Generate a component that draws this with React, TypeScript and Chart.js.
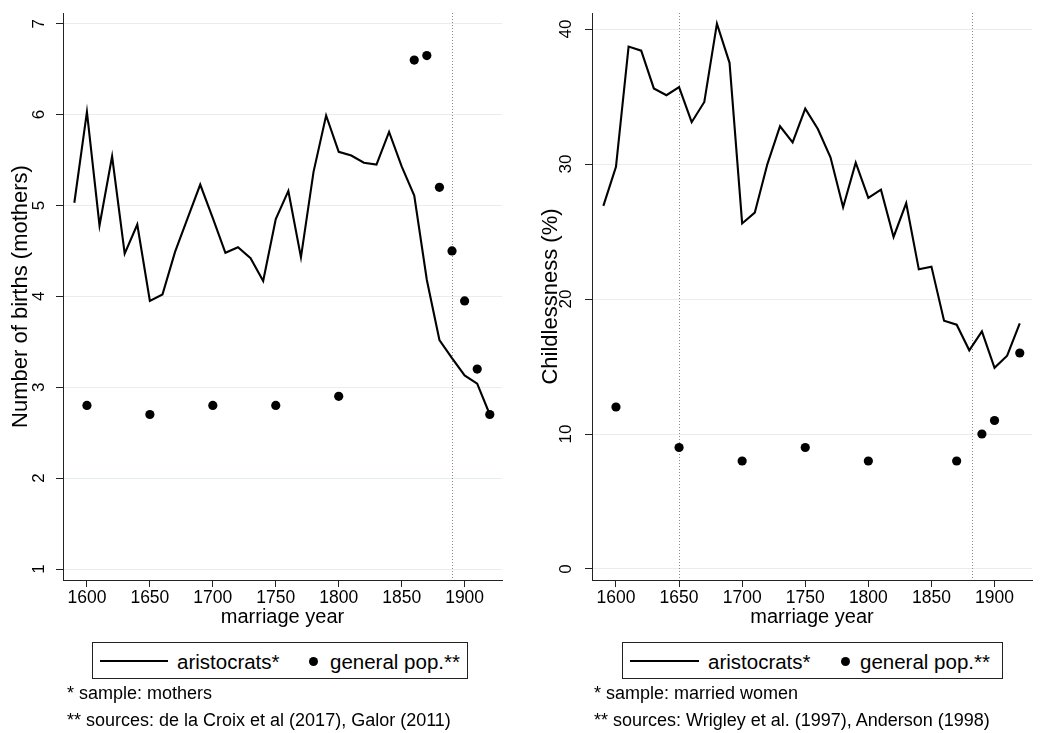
import React, { useEffect, useRef } from "react";
import { Chart, registerables } from "chart.js";

Chart.register(...registerables);

const FONT = "'Liberation Sans', Arial, Helvetica, sans-serif";

// ---------- data ----------
const years = [
  1590, 1600, 1610, 1620, 1630, 1640, 1650, 1660, 1670, 1680, 1690, 1700, 1710, 1720, 1730, 1740, 1750,
  1760, 1770, 1780, 1790, 1800, 1810, 1820, 1830, 1840, 1850, 1860, 1870, 1880, 1890, 1900, 1910, 1920,
];
const aristocratsBirths = [
  5.03, 6.03, 4.78, 5.54, 4.47, 4.79, 3.95, 4.02, 4.49, 4.86, 5.23, 4.86, 4.48, 4.54, 4.42, 4.17, 4.85,
  5.16, 4.43, 5.37, 5.99, 5.59, 5.55, 5.47, 5.45, 5.81, 5.43, 5.11, 4.18, 3.52, 3.32, 3.13, 3.04, 2.7,
];
const generalBirthYears = [1600, 1650, 1700, 1750, 1800, 1860, 1870, 1880, 1890, 1900, 1910, 1920];
const generalBirths = [2.8, 2.7, 2.8, 2.8, 2.9, 6.6, 6.65, 5.2, 4.5, 3.95, 3.2, 2.7];

const aristocratsChildless = [
  26.9, 29.8, 38.7, 38.4, 35.6, 35.1, 35.7, 33.1, 34.6, 40.4, 37.5, 25.6, 26.4, 30.0, 32.8, 31.6, 34.1,
  32.6, 30.5, 26.8, 30.1, 27.5, 28.1, 24.6, 27.1, 22.2, 22.4, 18.4, 18.1, 16.2, 17.6, 14.9, 15.8, 18.2,
];
const generalChildYears = [1600, 1650, 1700, 1750, 1800, 1870, 1890, 1900, 1920];
const generalChildless = [12, 9, 8, 9, 8, 8, 10, 11, 16];

const xTicks = [1600, 1650, 1700, 1750, 1800, 1850, 1900];
const birthTicks = [1, 2, 3, 4, 5, 6, 7];
const childTicks = [0, 10, 20, 30, 40];
const birthMarkers = [1890];
const childMarkers = [1650, 1882];

const seriesLabels = ["aristocrats*", "general pop.**"];
const xTitle = "marriage year";
const birthTitle = "Number of births (mothers)";
const childTitle = "Childlessness (%)";
const birthNotes = ["* sample: mothers", "** sources: de la Croix et al (2017), Galor (2011)"];
const childNotes = ["* sample: married women", "** sources: Wrigley et al. (1997), Anderson (1998)"];

// ---------- chart config ----------
function markerPlugin(values: number[]) {
  return {
    id: "vmarkers",
    beforeDatasetsDraw(chart: any) {
      const { ctx, chartArea, scales } = chart;
      ctx.save();
      ctx.strokeStyle = "#8a8a8a";
      ctx.lineWidth = 1;
      ctx.setLineDash([1, 2]);
      values.forEach((v) => {
        const x = Math.round(scales.x.getPixelForValue(v)) + 0.5;
        ctx.beginPath();
        ctx.moveTo(x, chartArea.top);
        ctx.lineTo(x, chartArea.bottom);
        ctx.stroke();
      });
      ctx.restore();
    },
  };
}

function makeConfig(opts: {
  lineY: number[];
  dotX: number[];
  dotY: number[];
  yMin: number;
  yMax: number;
  yTicks: number[];
  yTitle: string;
  yWidth: number;
  yTickPad: number;
  yTitlePad: number;
  rightPad: number;
  markers: number[];
}): any {
  const noPad = (s: any) => {
    s.paddingLeft = 0;
    s.paddingRight = 0;
    s.paddingTop = 0;
    s.paddingBottom = 0;
  };
  return {
    type: "line",
    data: {
      datasets: [
        {
          type: "scatter",
          label: seriesLabels[1],
          data: opts.dotX.map((x, i) => ({ x, y: opts.dotY[i] })),
          pointRadius: 4.6,
          pointBackgroundColor: "#000",
          pointBorderWidth: 0,
          showLine: false,
        },
        {
          type: "line",
          label: seriesLabels[0],
          data: years.map((x, i) => ({ x, y: opts.lineY[i] })),
          borderColor: "#000",
          borderWidth: 2.1,
          pointRadius: 0,
          tension: 0,
          fill: false,
        },
      ],
    },
    options: {
      responsive: false,
      animation: false,
      events: [],
      layout: { padding: { left: 0, right: opts.rightPad, top: 13, bottom: 93 } },
      plugins: { legend: { display: false }, tooltip: { enabled: false }, title: { display: false } },
      scales: {
        x: {
          type: "linear",
          min: 1581,
          max: 1929.7,
          afterBuildTicks: (s: any) => {
            s.ticks = xTicks.map((v) => ({ value: v }));
          },
          afterFit: (s: any) => {
            s.height = 60;
            noPad(s);
          },
          border: { display: true, color: "#222", width: 1 },
          grid: { drawOnChartArea: false, drawTicks: true, tickLength: 7, tickColor: "#222", tickWidth: 1 },
          ticks: {
            autoSkip: false,
            maxRotation: 0,
            minRotation: 0,
            padding: 1,
            color: "#000",
            font: { family: FONT, size: 17.5 },
            callback: (v: any) => String(v),
          },
          title: {
            display: true,
            text: xTitle,
            color: "#000",
            font: { family: FONT, size: 20 },
            padding: { top: 0, bottom: 11 },
          },
        },
        y: {
          type: "linear",
          min: opts.yMin,
          max: opts.yMax,
          afterBuildTicks: (s: any) => {
            s.ticks = opts.yTicks.map((v) => ({ value: v }));
          },
          afterFit: (s: any) => {
            s.width = opts.yWidth;
            noPad(s);
          },
          border: { display: true, color: "#222", width: 1 },
          grid: { color: "#e6eef0", lineWidth: 1, drawTicks: true, tickLength: 7, tickColor: "#222", tickWidth: 1 },
          ticks: {
            autoSkip: false,
            minRotation: 90,
            maxRotation: 90,
            crossAlign: "center",
            padding: opts.yTickPad,
            color: "#000",
            font: { family: FONT, size: 17 },
            callback: (v: any) => String(v),
          },
          title: {
            display: true,
            text: opts.yTitle,
            color: "#000",
            font: { family: FONT, size: 22 },
            padding: { top: opts.yTitlePad, bottom: 0 },
          },
        },
      },
    },
    plugins: [markerPlugin(opts.markers)],
  };
}

function ChartPanel({ left, config }: { left: number; config: any }) {
  const ref = useRef<HTMLCanvasElement>(null);
  useEffect(() => {
    const chart = new Chart(ref.current as HTMLCanvasElement, config);
    return () => chart.destroy();
  }, []);
  return (
    <canvas
      ref={ref}
      width={523}
      height={733}
      style={{ position: "absolute", left, top: 0, width: 523, height: 733, display: "block" }}
    />
  );
}

function Legend(p: { boxLeft: number; boxWidth: number; lineLeft: number; lineWidth: number; t1: number; dot: number; t2: number }) {
  const txt = (left: number, s: string) => (
    <div
      style={{
        position: "absolute",
        left,
        top: 652,
        fontFamily: FONT,
        fontSize: 20.5,
        lineHeight: "20.5px",
        color: "#000",
        whiteSpace: "nowrap",
      }}
    >
      {s}
    </div>
  );
  return (
    <>
      <div
        style={{
          position: "absolute",
          left: p.boxLeft,
          top: 642,
          width: p.boxWidth,
          height: 37,
          border: "1px solid #222",
          boxSizing: "border-box",
          background: "#fff",
        }}
      />
      <div style={{ position: "absolute", left: p.lineLeft, top: 659.5, width: p.lineWidth, height: 2, background: "#000" }} />
      {txt(p.t1, seriesLabels[0])}
      <div
        style={{ position: "absolute", left: p.dot - 4.5, top: 656.5, width: 9, height: 9, borderRadius: "50%", background: "#000" }}
      />
      {txt(p.t2, seriesLabels[1])}
    </>
  );
}

function Notes({ left, lines }: { left: number; lines: string[] }) {
  const baselines = [699, 726];
  return (
    <>
      {lines.map((s, i) => (
        <div
          key={i}
          style={{
            position: "absolute",
            left,
            top: baselines[i] - 15.25,
            fontFamily: FONT,
            fontSize: 18,
            lineHeight: "18px",
            color: "#000",
            whiteSpace: "nowrap",
          }}
        >
          {s}
        </div>
      ))}
    </>
  );
}

export default function App() {
  const leftCfg = makeConfig({
    lineY: aristocratsBirths,
    dotX: generalBirthYears,
    dotY: generalBirths,
    yMin: 0.879,
    yMax: 7.118,
    yTicks: birthTicks,
    yTitle: birthTitle,
    yWidth: 63,
    yTickPad: 12,
    yTitlePad: 8,
    rightPad: 21,
    markers: birthMarkers,
  });
  const rightCfg = makeConfig({
    lineY: aristocratsChildless,
    dotX: generalChildYears,
    dotY: generalChildless,
    yMin: -0.815,
    yMax: 41.19,
    yTicks: childTicks,
    yTitle: childTitle,
    yWidth: 69,
    yTickPad: 9,
    yTitlePad: 15,
    rightPad: 14,
    markers: childMarkers,
  });
  return (
    <div style={{ position: "absolute", left: 0, top: 0, width: 1046, height: 733, background: "#fff", overflow: "hidden" }}>
      <ChartPanel left={0} config={leftCfg} />
      <ChartPanel left={523} config={rightCfg} />
      <Legend boxLeft={92} boxWidth={376} lineLeft={100} lineWidth={68} t1={177} dot={313} t2={330} />
      <Legend boxLeft={622} boxWidth={381} lineLeft={630} lineWidth={69} t1={708} dot={845} t2={860} />
      <Notes left={67} lines={birthNotes} />
      <Notes left={594} lines={childNotes} />
    </div>
  );
}
